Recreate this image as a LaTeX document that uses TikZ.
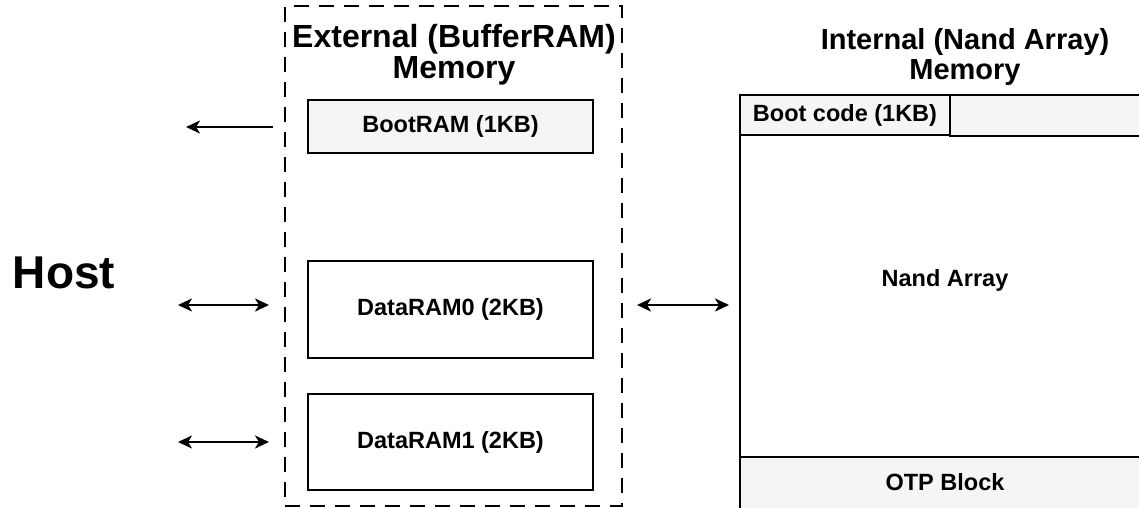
\documentclass[tikz,border=0pt]{standalone}
\usepackage{fontspec}
\setmainfont{Liberation Sans}
\usetikzlibrary{arrows.meta}
\definecolor{boxgray}{HTML}{F5F5F5}
\begin{document}
\begin{tikzpicture}[x=1pt,y=-1pt,
  lbl/.style={inner sep=0pt,font=\fontsize{23.5}{26}\selectfont\bfseries},
  box/.style={draw=black,line width=2pt,lbl},
  graybox/.style={box,fill=boxgray},
  ltitle/.style={anchor=base,inner sep=0pt,font=\fontsize{32}{36}\selectfont\bfseries},
  rtitle/.style={anchor=base,inner sep=0pt,font=\fontsize{29}{34}\selectfont\bfseries},
  tip/.tip={Stealth[length=14pt,width=13pt,inset=4pt]},
  conn/.style={line width=2.8pt,-tip},
  bconn/.style={line width=2.8pt,tip-tip}]
\useasboundingbox (0,0) rectangle (1139,508);
\clip (0,0) rectangle (1139,508);
% external dashed frame
\node[draw=black,line width=2pt,dash pattern=on 15pt off 10pt,minimum width=337pt,minimum height=500pt,inner sep=0pt] (ext) at (453.5,256) {};
\node[ltitle] (exttitle1) at (454,48) {External (BufferRAM)};
\node[ltitle] (exttitle2) at (454,79) {Memory};
\node[graybox,minimum width=285pt,minimum height=53pt] (bootram) at (450.5,126.5) {BootRAM (1KB)};
\node[box,fill=white,minimum width=285pt,minimum height=97pt] (data0) at (450.5,309.5) {DataRAM0 (2KB)};
\node[box,fill=white,minimum width=285pt,minimum height=96pt] (data1) at (450.5,442) {DataRAM1 (2KB)};
% host
\node[font=\fontsize{46}{50}\selectfont\bfseries,inner sep=0pt] (host) at (64,272.5) {Host};
% internal memory
\node[rtitle] (inttitle1) at (965,50) {Internal (Nand Array)};
\node[rtitle] (inttitle2) at (965,80) {Memory};
\node[box,fill=white,minimum width=410pt,minimum height=440pt] (nand) at (945,315) {};
\node[lbl] (nandlabel) at (945,280) {Nand Array};
\node[graybox,minimum width=210pt,minimum height=40pt] (bootcode) at (845,115) {Boot code (1KB)};
\node[graybox,minimum width=200pt,minimum height=41pt] (strip) at (1050,115.5) {};
\node[graybox,minimum width=410pt,minimum height=80pt] (otp) at (945,497) {};
\node[lbl] (otplabel) at (945,482) {OTP Block};
% connector end points
\coordinate (b1) at (273,127);
\coordinate (b2) at (186,127);
\coordinate (d0a) at (178,305);
\coordinate (d0b) at (269,305);
\coordinate (d1a) at (178,442);
\coordinate (d1b) at (269,442);
\coordinate (ma) at (637,305);
\coordinate (mb) at (729,305);
\draw[conn] (b1) -- (b2);
\draw[bconn] (d0a) -- (d0b);
\draw[bconn] (d1a) -- (d1b);
\draw[bconn] (ma) -- (mb);
\end{tikzpicture}
\end{document}
